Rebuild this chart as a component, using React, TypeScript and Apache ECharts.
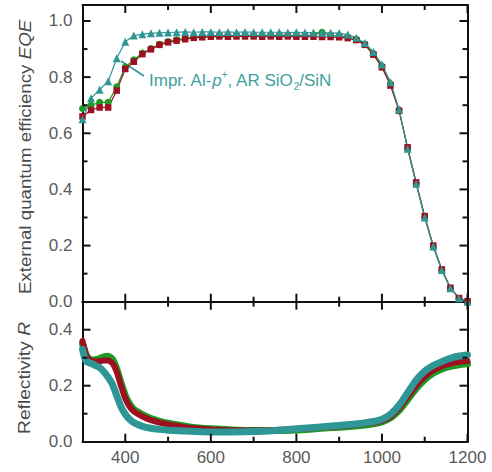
import React, { useEffect, useRef } from "react";
import * as echarts from "echarts";

// Wavelengths (nm) for EQE markers
const eqeNm = [300,320,340,360,380,400,420,440,460,480,500,520,540,560,580,600,620,640,660,680,700,720,740,760,780,800,820,840,860,880,900,920,940,960,980,1000,1020,1040,1060,1080,1100,1120,1140,1160,1180,1200];
const eqeGreen = [0.688,0.700,0.710,0.710,0.766,0.836,0.862,0.886,0.902,0.917,0.927,0.933,0.938,0.944,0.945,0.947,0.948,0.948,0.948,0.948,0.949,0.948,0.948,0.950,0.949,0.948,0.948,0.950,0.960,0.948,0.947,0.943,0.935,0.918,0.884,0.840,0.776,0.683,0.545,0.420,0.300,0.195,0.112,0.048,0.012,0.001];
const eqeRed = [0.660,0.683,0.692,0.692,0.752,0.829,0.855,0.882,0.899,0.915,0.924,0.930,0.935,0.940,0.942,0.944,0.945,0.944,0.945,0.945,0.945,0.944,0.945,0.944,0.945,0.944,0.944,0.944,0.943,0.943,0.942,0.939,0.932,0.915,0.880,0.835,0.770,0.680,0.550,0.425,0.305,0.200,0.115,0.050,0.013,0.002];
const eqeTeal = [0.650,0.725,0.755,0.785,0.867,0.926,0.948,0.953,0.956,0.958,0.959,0.960,0.961,0.960,0.961,0.961,0.960,0.961,0.960,0.961,0.960,0.960,0.960,0.960,0.959,0.960,0.959,0.959,0.958,0.958,0.957,0.952,0.940,0.922,0.890,0.845,0.782,0.685,0.545,0.420,0.300,0.197,0.113,0.048,0.012,0.000];

// Reflectivity
const rNm = [300,305,310,320,330,340,350,360,370,380,390,400,410,420,440,460,480,500,550,600,650,700,750,800,850,900,950,980,1000,1020,1040,1060,1080,1100,1120,1140,1160,1180,1200];
const rGreen = [0.350,0.325,0.305,0.292,0.293,0.297,0.303,0.305,0.295,0.260,0.210,0.165,0.135,0.115,0.097,0.083,0.073,0.066,0.053,0.046,0.042,0.040,0.040,0.042,0.047,0.052,0.058,0.064,0.071,0.085,0.112,0.150,0.190,0.222,0.245,0.260,0.269,0.275,0.278];
const rRed = [0.360,0.330,0.305,0.290,0.287,0.287,0.290,0.290,0.280,0.250,0.200,0.155,0.125,0.108,0.090,0.077,0.068,0.062,0.050,0.044,0.041,0.040,0.042,0.045,0.050,0.055,0.062,0.068,0.075,0.090,0.120,0.160,0.200,0.232,0.255,0.270,0.279,0.285,0.288];
const rTeal = [0.330,0.300,0.285,0.280,0.272,0.265,0.250,0.230,0.205,0.165,0.125,0.098,0.080,0.068,0.055,0.048,0.044,0.041,0.037,0.035,0.035,0.036,0.040,0.046,0.052,0.058,0.065,0.072,0.080,0.098,0.130,0.175,0.220,0.252,0.272,0.286,0.298,0.306,0.310];

// Tick values
const xMajor = [400, 600, 800, 1000, 1200];
const xMinor = [500, 700, 900, 1100];
const eqeMajor = [0, 0.2, 0.4, 0.6, 0.8, 1.0];
const eqeMinor = [0.1, 0.3, 0.5, 0.7, 0.9];
const rMajor = [0, 0.2, 0.4];
const rMinor = [0.1, 0.3];

const GREEN = "#1f9a24";
const RED = "#9c1020";
const TEAL = "#2f9696";
const FONT = "Liberation Sans, Arial, sans-serif";
const X_MIN = 300, X_MAX = 1200;
const TOP_MAX = 1.057, R_MAX = 0.5;

const zip = (xs: number[], ys: number[]) => xs.map((x, i) => [x, ys[i]]);

function axis(kind: "x" | "y", grid: number, position: string, min: number, max: number, labels: number[] | null) {
  return {
    type: "value", gridIndex: grid, position, min, max,
    splitLine: { show: false },
    axisLine: { show: true, onZero: false, lineStyle: { color: "#111", width: 2 } },
    axisTick: { show: false },
    axisLabel: labels
      ? {
          show: true, customValues: labels, color: "#5a5a5a", fontSize: 17, fontFamily: FONT,
          margin: kind === "x" ? 7 : 10,
          formatter: (v: number) => (kind === "x" ? String(Math.round(v)) : v.toFixed(1)),
        }
      : { show: false },
  };
}

// Inward ticks as scatter symbols placed at axis values
function tickSeries(axisIdx: number, yMax: number, yMaj: number[], yMin: number[]) {
  const LONG = 8, SHORT = 5, W = 2;
  const data: any[] = [];
  const xs: [number, number][] = [...xMajor.map((v) => [v, LONG] as [number, number]), ...xMinor.map((v) => [v, SHORT] as [number, number])];
  xs.forEach(([v, l]) => {
    data.push({ value: [v, 0], symbolSize: [W, l], symbolOffset: [0, -l / 2] });
    data.push({ value: [v, yMax], symbolSize: [W, l], symbolOffset: [0, l / 2] });
  });
  const ys: [number, number][] = [...yMaj.filter((v) => v > 0).map((v) => [v, LONG] as [number, number]), ...yMin.map((v) => [v, SHORT] as [number, number])];
  ys.forEach(([v, l]) => {
    data.push({ value: [X_MIN, v], symbolSize: [l, W], symbolOffset: [l / 2, 0] });
    data.push({ value: [X_MAX, v], symbolSize: [l, W], symbolOffset: [-l / 2, 0] });
  });
  return {
    type: "scatter", xAxisIndex: axisIdx, yAxisIndex: axisIdx, data, symbol: "rect",
    clip: false, silent: true, z: 20, itemStyle: { color: "#111", opacity: 1 },
  };
}

export default function App() {
  const ref = useRef<HTMLDivElement>(null);
  useEffect(() => {
    if (!ref.current) return;
    const chart = echarts.init(ref.current, null, { renderer: "svg" });
    const gl = 82.5, gw = 385;
    const xAxis = [
      axis("x", 0, "bottom", X_MIN, X_MAX, null),
      axis("x", 0, "top", X_MIN, X_MAX, null),
      axis("x", 1, "bottom", X_MIN, X_MAX, xMajor),
      axis("x", 1, "top", X_MIN, X_MAX, null),
    ];
    const yAxis = [
      axis("y", 0, "left", 0, TOP_MAX, eqeMajor),
      axis("y", 0, "right", 0, TOP_MAX, null),
      axis("y", 1, "left", 0, R_MAX, rMajor),
      axis("y", 1, "right", 0, R_MAX, null),
    ];
    const eqeSeries = (name: string, data: number[], color: string, symbol: string, size: number) => ({
      name, type: "line", xAxisIndex: 0, yAxisIndex: 0, data: zip(eqeNm, data),
      symbol, symbolSize: size, showSymbol: true,
      itemStyle: { color }, lineStyle: { color, width: 1.2 },
    });
    const rSeries = (name: string, data: number[], color: string, width: number) => ({
      name, type: "line", xAxisIndex: 2, yAxisIndex: 2, data: zip(rNm, data),
      symbol: "none", smooth: 0.2,
      lineStyle: { color, width, cap: "round", join: "round" },
    });
    chart.setOption({
      animation: false,
      backgroundColor: "#fff",
      grid: [
        { left: gl, width: gw, top: 5, height: 296.7 },
        { left: gl, width: gw, top: 301.7, height: 140 },
      ],
      xAxis,
      yAxis,
      series: [
        eqeSeries("green", eqeGreen, GREEN, "circle", 7),
        eqeSeries("red", eqeRed, RED, "rect", 6.5),
        eqeSeries("teal", eqeTeal, TEAL, "triangle", 8),
        rSeries("rgreen", rGreen, GREEN, 7),
        rSeries("rred", rRed, RED, 6),
        rSeries("rteal", rTeal, TEAL, 7),
        tickSeries(0, TOP_MAX, eqeMajor, eqeMinor),
        tickSeries(2, R_MAX, rMajor, rMinor),
      ],
      graphic: [
        {
          type: "text", x: 25, y: 157, rotation: Math.PI / 2, scaleX: 1.17,
          style: {
            text: "{a|External quantum efficiency }{i|EQE}",
            align: "center", verticalAlign: "middle",
            rich: {
              a: { fontSize: 16, fontFamily: FONT, fill: "#4a4a4a" },
              i: { fontSize: 16, fontFamily: FONT, fontStyle: "italic", fill: "#4a4a4a" },
            },
          },
        },
        {
          type: "text", x: 25, y: 378, rotation: Math.PI / 2, scaleX: 1.2,
          style: {
            text: "{a|Reflectivity }{i|R}",
            align: "center", verticalAlign: "middle",
            rich: {
              a: { fontSize: 16, fontFamily: FONT, fill: "#4a4a4a" },
              i: { fontSize: 16, fontFamily: FONT, fontStyle: "italic", fill: "#4a4a4a" },
            },
          },
        },
        {
          type: "line", shape: { x1: 144, y1: 76, x2: 121, y2: 61 },
          style: { stroke: TEAL, lineWidth: 1.5 },
        },
        {
          type: "text", x: 149, y: 80,
          style: {
            text: "{a|Impr. Al-}{i|p}{sup|+}{a|, AR SiO}{sub|2}{a|/SiN}",
            align: "left", verticalAlign: "middle",
            rich: {
              a: { fontSize: 17, fontFamily: FONT, fill: "#3f9f9f", lineHeight: 22 },
              i: { fontSize: 17, fontFamily: FONT, fontStyle: "italic", fill: "#3f9f9f", lineHeight: 22 },
              sup: { fontSize: 10, fontFamily: FONT, fill: "#3f9f9f", verticalAlign: "top", lineHeight: 22 },
              sub: { fontSize: 10, fontFamily: FONT, fill: "#3f9f9f", verticalAlign: "bottom", lineHeight: 22 },
            },
          },
        },
      ],
    });
    return () => chart.dispose();
  }, []);
  return <div ref={ref} style={{ width: 492, height: 472, position: "absolute", left: 0, top: 0 }} />;
}
